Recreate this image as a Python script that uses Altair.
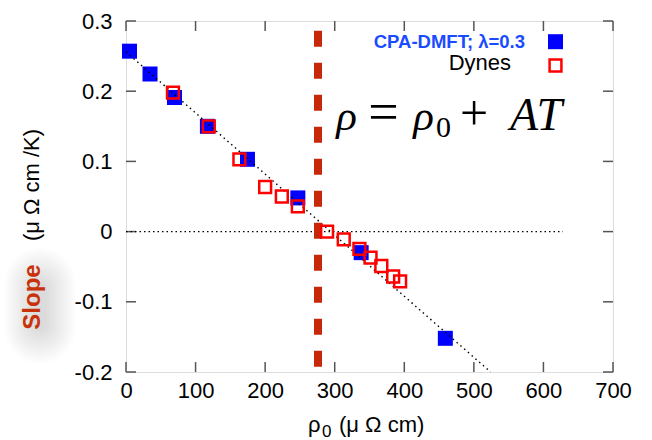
import altair as alt
import pandas as pd

# ---- data ----
blue_x = [5, 34.5, 69.7, 117, 174.6, 247, 338, 459]
blue_y = [0.257, 0.2245, 0.191, 0.150, 0.103, 0.048, -0.030, -0.152]

red_x = [67.5, 119, 163, 200, 224, 247, 289, 313, 335.5, 351.5, 367, 384, 394]
red_y = [0.198, 0.150, 0.103, 0.0635, 0.050, 0.036, 0.0, -0.011, -0.0245, -0.037, -0.049, -0.064, -0.071]

fit_x = [0, 524]
fit_y = [0.256, -0.2]

zero_x = [0, 628]
zero_y = [0, 0]

vline_x = [276, 276]
vline_y = [0.286, -0.2]

x_ticks = [0, 100, 200, 300, 400, 500, 600, 700]
y_ticks = [-0.2, -0.1, 0, 0.1, 0.2, 0.3]

W, H = 487, 351
FONT = "Liberation Sans"

xs = alt.Scale(domain=[0, 700], nice=False, zero=False)
ys = alt.Scale(domain=[-0.2, 0.3], nice=False, zero=False)

blue = pd.DataFrame({"x": blue_x, "y": blue_y})
red = pd.DataFrame({"x": red_x, "y": red_y})
fit = pd.DataFrame({"x": fit_x, "y": fit_y})
zero = pd.DataFrame({"x": zero_x, "y": zero_y})
vline = pd.DataFrame({"x": vline_x, "y": vline_y})
xt = pd.DataFrame({"x": x_ticks})
yt = pd.DataFrame({"y": y_ticks})

X_AX = alt.Axis(values=x_ticks, ticks=False, domain=False, grid=False,
                labelFontSize=22, labelFont=FONT, labelColor="black",
                labelPadding=8, labelFlush=False, labelOverlap=False, title=None)
Y_AX = alt.Axis(values=y_ticks, ticks=False, domain=False, grid=False,
                labelFontSize=22, labelFont=FONT, labelColor="black",
                labelPadding=14, labelFlush=False, labelOverlap=False, title=None,
                labelExpr="datum.value == 0 ? '0' : replace(format(datum.value, '.1f'), '\u2212', '-')")

XE = alt.X("x:Q", scale=xs, axis=X_AX)
YE = alt.Y("y:Q", scale=ys, axis=Y_AX)


def txt(s, px, py, **kw):
    return alt.Chart(pd.DataFrame({"t": [s]})).mark_text(**kw).encode(
        x=alt.value(px), y=alt.value(py), text="t:N")


# soft glow behind "Slope"
glow = []
for i in range(12):
    a, b, c, d = -121 + 2.6 * i, -51 - 2.6 * i, 228 + 3 * i, 342 - 3 * i
    glow.append(alt.Chart(pd.DataFrame({"k": [i]})).mark_rect(
        color="#777777", opacity=0.02, cornerRadius=max(2, (b - a) / 2)).encode(
        x=alt.value(a), x2=alt.value(b), y=alt.value(c), y2=alt.value(d)))

tick_style = dict(color="#555555", strokeWidth=1.5)
ticks = [
    alt.Chart(xt).mark_rule(**tick_style).encode(x=XE, y=alt.value(H), y2=alt.value(H - 10)),
    alt.Chart(xt).mark_rule(**tick_style).encode(x=XE, y=alt.value(0), y2=alt.value(10)),
    alt.Chart(yt).mark_rule(**tick_style).encode(y=YE, x=alt.value(0), x2=alt.value(10)),
    alt.Chart(yt).mark_rule(**tick_style).encode(y=YE, x=alt.value(W), x2=alt.value(W - 10)),
]

zero_line = alt.Chart(zero).mark_line(color="black", strokeWidth=1.2, strokeDash=[1.5, 3]).encode(
    x=XE, y=YE)

fit_line = alt.Chart(fit).mark_line(color="black", strokeWidth=1.4, strokeDash=[1.5, 3.5]).encode(
    x=XE, y=YE)

red_vline = alt.Chart(vline).mark_line(color="#c8280a", strokeWidth=8, strokeDash=[16, 16]).encode(
    x=XE, y=YE, order=alt.Order("y:Q", sort="descending"))

blue_pts = alt.Chart(blue).mark_point(shape="square", filled=True, color="#0000ff",
                                      size=225, opacity=1).encode(x=XE, y=YE)

red_pts = alt.Chart(red).mark_point(shape="square", filled=False, color="#ff0000",
                                    size=140, strokeWidth=2.5, opacity=1).encode(x=XE, y=YE)

# legend (drawn manually, inside plot)
legend = [
    txt("CPA-DMFT; λ=0.3", 399, 20.5, align="right", baseline="middle", font=FONT,
        fontSize=18.5, fontWeight="bold", color="#1a4cff"),
    txt("Dynes", 385, 42, align="right", baseline="middle", font=FONT, fontSize=22, color="black"),
    alt.Chart(pd.DataFrame({"k": [0]})).mark_point(shape="square", filled=True, color="#0000ff",
                                                   size=225, opacity=1).encode(
        x=alt.value(429.5), y=alt.value(20.7)),
    alt.Chart(pd.DataFrame({"k": [0]})).mark_point(shape="square", filled=False, color="#ff0000",
                                                   size=140, strokeWidth=2.5, opacity=1).encode(
        x=alt.value(429.5), y=alt.value(44.5)),
]

SERIF = "Liberation Serif"
formula = [
    txt("ρ", 220.5, 109, align="center", baseline="alphabetic", font=SERIF, fontSize=43,
        fontStyle="italic", color="black"),
    txt("=", 257.5, 109, align="center", baseline="alphabetic", font=SERIF, fontSize=54, color="black"),
    txt("ρ", 297.5, 109, align="center", baseline="alphabetic", font=SERIF, fontSize=43,
        fontStyle="italic", color="black"),
    txt("0", 317.5, 116, align="center", baseline="alphabetic", font=SERIF, fontSize=30, color="black"),
    txt("+", 348, 109, align="center", baseline="alphabetic", font=SERIF, fontSize=50, color="black"),
    txt("AT", 410, 109, align="center", baseline="alphabetic", font=SERIF, fontSize=46,
        fontStyle="italic", color="black"),
]

titles = [
    txt("Slope", -93, 276, align="center", baseline="middle", angle=270, font=FONT,
        fontSize=24, fontWeight="bold", color="#c8320a"),
    txt("(μ Ω cm /K)", -94, 164, align="center", baseline="middle", angle=270, font=FONT,
        fontSize=22, color="black"),
    txt("ρ", 182, 411, align="left", baseline="alphabetic", font=FONT, fontSize=22, color="black"),
    txt("0", 196, 416, align="left", baseline="alphabetic", font=FONT, fontSize=17, color="black"),
    txt("(μ Ω cm)", 213, 411, align="left", baseline="alphabetic", font=FONT, fontSize=22, color="black"),
]

chart = alt.layer(
    blue_pts, *glow, *ticks, zero_line, fit_line, red_vline, red_pts, *legend, *formula, *titles
).properties(
    width=W, height=H,
    padding={"left": 126, "top": 21, "right": 39, "bottom": 68},
    autosize=alt.AutoSizeParams(type="none"),
).configure_view(stroke="#222222", strokeWidth=1.8).configure(background="white")

chart.save("out.html", embed_options={"renderer": "svg", "actions": False})
